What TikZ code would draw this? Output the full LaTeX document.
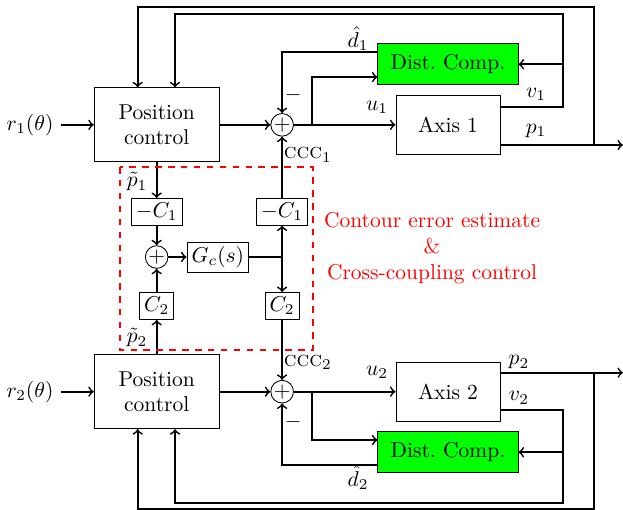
\documentclass[tikz,border=0pt]{standalone}
\usepackage{amsmath}
\tikzset{
  block/.style={draw, align=center, inner sep=2pt},
  sumnode/.style={draw, circle, inner sep=0pt, minimum size=0.37cm},
  small/.style={draw, inner sep=2pt, minimum height=0.42cm},
  lab/.style={inner sep=1pt},
}
\begin{document}
\begin{tikzpicture}
    \useasboundingbox (0,0) rectangle (10.18,-8.33);
    % Regler:
    \node[block, minimum width=2.04cm, minimum height=1.21cm] (pc1) at (2.56,-2.04) {Position\\control}; % Achse 1
    \node[block, minimum width=2.04cm, minimum height=1.21cm] (pc2) at (2.56,-6.40) {Position\\control}; % Achse 2
    \node (r1) at (0.49,-2.04) {$r_1(\theta)$};
    \node (r2) at (0.49,-6.40) {$r_2(\theta)$};
    % Summierer:
    \node[sumnode] (s1) at (4.61,-2.04) {$+$};
    \node[sumnode] (s2) at (4.61,-6.40) {$+$};
    % Strecken und Stoerbeobachter:
    \node[block, minimum width=1.70cm, minimum height=0.96cm] (ax1) at (7.32,-2.04) {Axis 1};
    \node[block, minimum width=1.70cm, minimum height=0.96cm] (ax2) at (7.32,-6.40) {Axis 2};
    \node[block, fill=green, minimum width=2.29cm, minimum height=0.67cm] (dc1) at (7.32,-1.05) {Dist.\ Comp.};
    \node[block, fill=green, minimum width=2.29cm, minimum height=0.67cm] (dc2) at (7.32,-7.39) {Dist.\ Comp.};
    % Kopplung:
    \node[small, minimum width=0.83cm] (mc1a) at (2.56,-3.46) {$-C_1$};
    \node[small, minimum width=0.83cm] (mc1b) at (4.61,-3.46) {$-C_1$};
    \node[sumnode] (s3) at (2.56,-4.20) {$+$};
    \node[small, minimum width=1.01cm] (gc) at (3.56,-4.20) {$G_c(s)$};
    \node[small, minimum width=0.56cm, minimum height=0.44cm] (c2a) at (2.56,-5.00) {$C_2$};
    \node[small, minimum width=0.56cm, minimum height=0.44cm] (c2b) at (4.61,-5.00) {$C_2$};
    % Hilfspunkte:
    \coordinate (jc) at (4.61,-4.20);
    \coordinate (b1) at (5.10,-2.04);
    \coordinate (b2) at (5.10,-6.40);
    \coordinate (k1) at (9.71,-2.37);
    \coordinate (k2) at (9.71,-6.09);
    \coordinate (j1) at (9.20,-1.05);
    \coordinate (j2) at (9.20,-7.39);
    \coordinate (out1) at (10.18,-2.37);
    \coordinate (out2) at (10.18,-6.09);
    % Beschriftungen:
    \node[lab] (lp1) at (2.24,-2.97) {$\tilde{p}_1$};
    \node[lab] (lp2) at (2.24,-5.52) {$\tilde{p}_2$};
    \node[lab] (ld1) at (5.85,-0.63) {$\hat{d}_1$};
    \node[lab] (ld2) at (5.85,-7.81) {$\hat{d}_2$};
    \node[lab] (lu1) at (6.16,-1.75) {$u_1$};
    \node[lab] (lu2) at (6.16,-6.09) {$u_2$};
    \node[lab] (lv1) at (8.76,-1.54) {$v_1$};
    \node[lab] (lq1) at (8.76,-2.14) {$p_1$};
    \node[lab] (lq2) at (8.48,-5.92) {$p_2$};
    \node[lab] (lv2) at (8.48,-6.50) {$v_2$};
    \node[lab] (m1) at (4.79,-1.55) {$-$};
    \node[lab] (m2) at (4.79,-6.90) {$-$};
    \node[lab] (ccc1) at (5.03,-2.53) {\textsc{ccc}$_1$};
    \node[lab] (ccc2) at (5.03,-5.92) {\textsc{ccc}$_2$};
    \node[red, align=center] (cee) at (7.06,-4.05) {Contour error estimate\\\&\\Cross-coupling control};
    % Achse 1:
    \draw[->, thick] (r1) -- (pc1);
    \draw[->, thick] (pc1) -- (s1);
    \draw[->, thick] (s1) -- (ax1);
    \draw[->, thick] (b1) |- ([yshift=-0.21cm]dc1.west);
    \draw[->, thick] ([yshift=0.20cm]dc1.west) -| (s1);
    \draw[->, thick] ([yshift=-0.33cm]ax1.east) -- (out1);
    \draw[->, thick] (k1) -- ++(0,2.26) -| ([xshift=-0.31cm]pc1.north); % aeussere Schleife
    \draw[->, thick] ([yshift=0.29cm]ax1.east) -| (9.20,-0.23) -| ([xshift=0.30cm]pc1.north); % innere Schleife
    \draw[->, thick] (j1) -- (dc1);
    % Achse 2:
    \draw[->, thick] (r2) -- (pc2);
    \draw[->, thick] (pc2) -- (s2);
    \draw[->, thick] (s2) -- (ax2);
    \draw[->, thick] (b2) |- ([yshift=0.20cm]dc2.west);
    \draw[->, thick] ([yshift=-0.21cm]dc2.west) -| (s2);
    \draw[->, thick] ([yshift=0.31cm]ax2.east) -- (out2);
    \draw[->, thick] (k2) -- ++(0,-2.23) -| ([xshift=-0.31cm]pc2.south); % aeussere Schleife
    \draw[->, thick] ([yshift=-0.30cm]ax2.east) -| (9.20,-8.22) -| ([xshift=0.30cm]pc2.south); % innere Schleife
    \draw[->, thick] (j2) -- (dc2);
    % Kreuzkopplung:
    \draw[->, thick] (pc1) -- (mc1a);
    \draw[->, thick] (mc1a) -- (s3);
    \draw[->, thick] (pc2) -- (c2a);
    \draw[->, thick] (c2a) -- (s3);
    \draw[->, thick] (s3) -- (gc);
    \draw[thick] (gc) -- (jc);
    \draw[->, thick] (jc) -- (mc1b);
    \draw[->, thick] (jc) -- (c2b);
    \draw[->, thick] (mc1b) -- (s1);
    \draw[->, thick] (c2b) -- (s2);
    \draw[red, dashed, thick] (1.96,-2.73) rectangle (5.11,-5.72);
\end{tikzpicture}
\end{document}
